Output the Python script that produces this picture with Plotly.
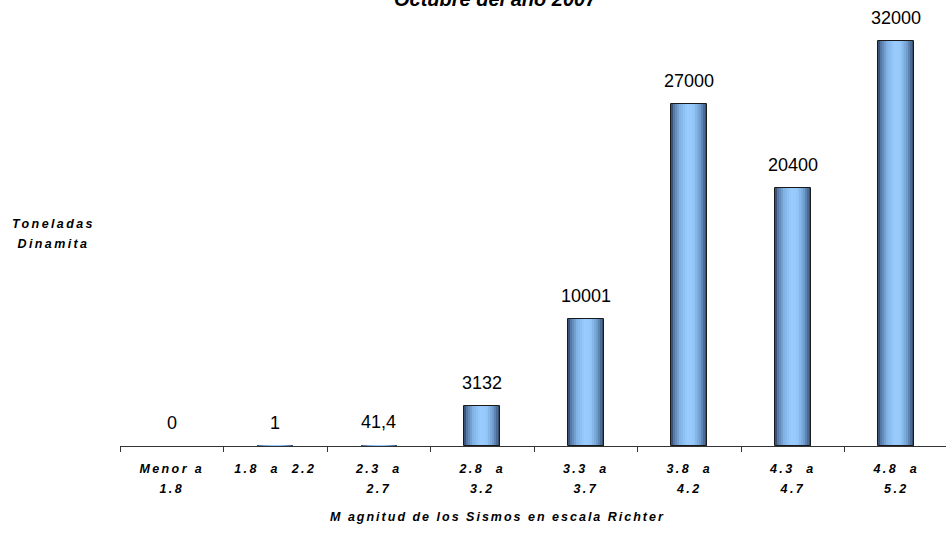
import plotly.graph_objects as go

# ---- data ----
categories = ["Menor a<br>1.8", "1.8  a  2.2", "2.3  a<br>2.7", "2.8  a<br>3.2",
              "3.3  a<br>3.7", "3.8  a<br>4.2", "4.3  a<br>4.7", "4.8  a<br>5.2"]
values = [0, 1, 41.4, 3132, 10001, 27000, 20400, 32000]
value_labels = ["0", "1", "41,4", "3132", "10001", "27000", "20400", "32000"]
title_text = "Octubre del año 2007"
x_title = "M agnitud de los Sismos en escala Richter"
y_title_lines = ["Toneladas", "Dinamita"]

FONT = "Liberation Sans, Arial, sans-serif"


def spaced(s, size=12.5, ls=2.4):
    parts = s.split("<br>")
    return "<br>".join(
        "<span style='font-size:%spx;letter-spacing:%spx'>%s</span>"
        % (size, ls, p.replace(" ", "\u00a0")) for p in parts)


xcats = [spaced(c) for c in categories]

# gradient colour stops across a bar (left -> right)
stops = [(0.0, (45, 65, 95)), (0.08, (85, 120, 165)), (0.25, (130, 178, 228)),
         (0.45, (153, 204, 255)), (0.62, (150, 200, 250)), (0.8, (112, 158, 208)),
         (0.93, (72, 102, 142)), (1.0, (45, 65, 95))]


def grad(t):
    for (t0, c0), (t1, c1) in zip(stops[:-1], stops[1:]):
        if t0 <= t <= t1:
            f = (t - t0) / (t1 - t0)
            return "rgb(%d,%d,%d)" % tuple(round(a + (b - a) * f) for a, b in zip(c0, c1))
    return "rgb(%d,%d,%d)" % stops[-1][1]


W = 0.348
N = 18
fig = go.Figure()
for i in range(N):
    fig.add_trace(go.Bar(
        x=xcats, y=values, width=W / N * 1.05, offset=-W / 2 + i * W / N,
        marker=dict(color=grad((i + 0.5) / N), line=dict(width=0)),
        showlegend=False, hoverinfo="skip"))
outline_w = [1 if v > 200 else 0 for v in values]
fig.add_trace(go.Bar(
    x=xcats, y=values, width=W, offset=-W / 2,
    marker=dict(color="rgba(0,0,0,0)", line=dict(width=outline_w, color="#1a1a1a")),
    showlegend=False, hoverinfo="skip"))

for i, (v, lab) in enumerate(zip(values, value_labels)):
    fig.add_annotation(x=i, y=v, xref="x", yref="y", text=lab, showarrow=False,
                       yanchor="middle", yshift=23,
                       font=dict(family=FONT, size=18, color="#000"))

# title (partially cut at top)
fig.add_annotation(x=(495 - 120) / 826, y=1, xref="paper", yref="paper",
                   text=title_text, showarrow=False, yanchor="middle", yshift=1,
                   font=dict(family=FONT, size=20, color="#000", weight="bold", style="italic"))

# x-axis title
fig.add_annotation(x=(497 - 120) / 826, y=-(517 - 446) / 446, xref="paper", yref="paper",
                   text=spaced(x_title, size=12.5, ls=2.0), showarrow=False, yanchor="middle",
                   font=dict(family=FONT, size=12.5, color="#000", weight="bold", style="italic"))

# y-axis title
fig.add_annotation(x=(53 - 120) / 826, y=1 - 233.5 / 446, xref="paper", yref="paper",
                   text=spaced("<br>".join(y_title_lines), size=12.5, ls=2.4), showarrow=False,
                   xanchor="center", yanchor="middle", align="center",
                   font=dict(family=FONT, size=15, color="#000", weight="bold", style="italic"))

fig.update_layout(
    width=946, height=549,
    margin=dict(l=120, r=0, t=0, b=103),
    paper_bgcolor="white", plot_bgcolor="white",
    barmode="overlay", bargap=0,
    font=dict(family=FONT, color="#000"),
    xaxis=dict(type="category", range=[-0.5, 7.48], tickson="boundaries",
               ticks="outside", ticklen=5, tickcolor="#333", showline=True,
               linecolor="#333", linewidth=1, showgrid=False, zeroline=False,
               tickfont=dict(family=FONT, size=15, color="#000", weight="bold", style="italic"),
               ticklabelstandoff=8),
    yaxis=dict(range=[0, 35234], visible=False, showgrid=False, zeroline=False),
)

fig.write_html("out.html")
